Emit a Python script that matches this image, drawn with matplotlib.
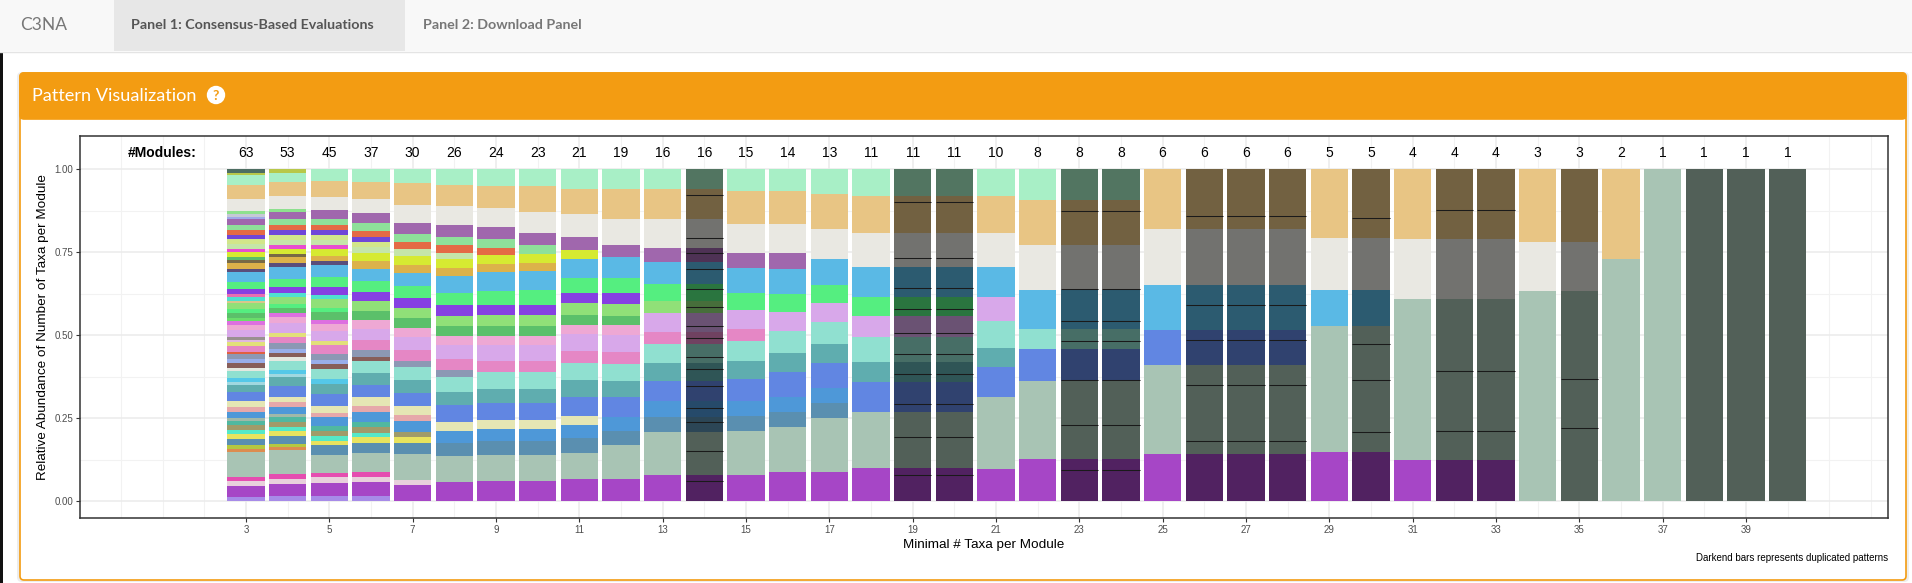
import numpy as np
import matplotlib.pyplot as plt
from matplotlib import font_manager
from matplotlib.patches import FancyBboxPatch, Rectangle, Circle
from matplotlib.colors import to_rgb

W, H = 1912, 583

installed = {f.name for f in font_manager.fontManager.ttflist}


def pick(*cands):
    for c in cands:
        if c in installed:
            return c
    return 'DejaVu Sans'


plot_font = pick('Liberation Sans', 'Arial', 'DejaVu Sans')
page_font = pick('Lato', 'Open Sans', 'Noto Sans')

# ---- data -------------------------------------------------------------
min_taxa = list(range(3, 41))
n_modules = [63, 53, 45, 37, 30, 26, 24, 23, 21, 19, 16, 16, 15, 14, 13, 11, 11, 11, 10,
             8, 8, 8, 6, 6, 6, 6, 5, 5, 4, 4, 4, 3, 3, 2, 1, 1, 1, 1]
# bars that repeat the pattern before them (drawn darker)
duplicated = [14, 19, 20, 23, 24, 26, 27, 28, 30, 32, 33, 35, 38, 39, 40]

module_colors = {
    'sage': '#A8C4B4', 'purple': '#A646C6', 'mint': '#A8EFC6', 'peach': '#E8C584',
    'lgray': '#E9E8E2', 'mauve': '#A067AD', 'green': '#8EE09A', 'orange': '#E46A45',
    'violet': '#7046D8', 'lyg': '#D2E58A', 'pgreen': '#C5E5A9', 'magenta': '#E84DD0',
    'yellow': '#D6EA32', 'gold': '#DCB24A', 'dslate': '#5A4E7A', 'sky': '#5AB9E5',
    'bgreen': '#55EE80', 'violet2': '#8640E2', 'turq': '#4FE0D0', 'lgreen2': '#90E078',
    'green2': '#5BC06A', 'orchid': '#DD6FE0', 'lpink': '#EEA8D4', 'lavender': '#D8A8EA',
    'pyellow': '#E2E07A', 'pink': '#E587C5', 'graybl': '#8C98B4', 'periw': '#99AEEA',
    'brown': '#875E5A', 'lgray2': '#E4E8E0', 'mint2': '#90E0D0', 'sky2': '#55C8E8',
    'lblue': '#A0D8E0', 'teal': '#5FADAF', 'blue': '#6186E2', 'pyellow2': '#E5E6B4',
    'salmon': '#E6A8AA', 'blue2': '#4E98D8', 'graygreen': '#A0B8A8', 'seagreen': '#50B8A0',
    'khaki': '#A09B6A', 'turq2': '#55E8C8', 'yellow2': '#E8E35E', 'steel': '#5A8FB0',
    'olivegreen': '#B5C840', 'orange3': '#DC8C50', 'magpink': '#E54DB0', 'lpink2': '#E8D0DC',
    'lavender2': '#A78BE8', 'dkteal': '#4E6E62', 'olive': '#B8C84A', 'lgreen': '#8EE08E',
    'lgraybl': '#C5C9D6', 'periw0': '#9FA9E8', 'green5': '#5ABD6A', 'olivebrown': '#786A45',
    'pink0': '#E86FB0', 'tan': '#D9C68A', 'green6': '#6ADE6A', 'gray': '#999090',
    'lavpink': '#E0B8E0', 'orange2': '#E06040',
}

# taxa share of each module (top to bottom), per minimal taxa size
mods_03 = ['dkteal', 'olive', 'mint', 'peach', 'lgray', 'lgreen', 'lgraybl', 'periw0', 'mauve',
           'green', 'orange', 'violet', 'lyg', 'pgreen', 'magenta', 'yellow', 'green5',
           'olivebrown', 'gold', 'dslate', 'sky', 'bgreen', 'violet2', 'pink0', 'turq', 'tan',
           'lgreen2', 'bgreen', 'green2', 'green6', 'orchid', 'lpink', 'lavender', 'gray',
           'lavpink', 'pyellow', 'pink', 'orange2', 'graybl', 'periw', 'brown', 'lgray2',
           'mint2', 'sky2', 'lblue', 'teal', 'blue', 'pyellow2', 'salmon', 'blue2',
           'graygreen', 'seagreen', 'khaki', 'turq2', 'yellow2', 'steel', 'olivegreen',
           'orange3', 'sage', 'magpink', 'lpink2', 'purple', 'lavender2']
size_03 = [10, 8, 30, 42, 36, 9, 8, 7, 18, 15, 15, 12, 15, 15, 9, 15, 8, 10, 18, 9, 30, 21, 15,
           9, 11, 6, 19, 12, 14, 10, 12, 14, 22, 8, 7, 12, 17, 6, 15, 12, 16, 8, 22, 12, 9, 21,
           26, 18, 16, 17, 9, 13, 15, 12, 15, 18, 12, 9, 75, 12, 15, 33, 12]

mods_04 = ['olive', 'mint', 'peach', 'lgray', 'lgreen', 'mauve', 'green', 'orange', 'violet',
           'lyg', 'pgreen', 'magenta', 'yellow', 'olivebrown', 'gold', 'dslate', 'sky',
           'bgreen', 'violet2', 'turq', 'lgreen2', 'bgreen', 'green2', 'orchid', 'lpink',
           'lavender', 'pyellow', 'pink', 'graybl', 'periw', 'brown', 'lgray2', 'mint2', 'sky2',
           'lblue', 'teal', 'blue', 'pyellow2', 'salmon', 'blue2', 'graygreen', 'seagreen',
           'khaki', 'turq2', 'yellow2', 'steel', 'olivegreen', 'orange3', 'sage', 'magpink',
           'lpink2', 'purple', 'lavender2']
size_04 = [11, 27, 43, 39, 8, 22, 18, 15, 15, 15, 15, 12, 15, 9, 18, 12, 36, 24, 18, 12, 21, 12,
           15, 12, 18, 30, 12, 18, 18, 12, 12, 12, 27, 12, 9, 27, 33, 15, 15, 21, 9, 15, 15, 12,
           15, 24, 9, 9, 72, 15, 15, 36, 15]

mods_05 = ['mint', 'peach', 'lgray', 'mauve', 'green', 'orange', 'violet', 'lyg', 'pgreen',
           'magenta', 'yellow', 'gold', 'dslate', 'sky', 'bgreen', 'violet2', 'turq', 'lgreen2',
           'bgreen', 'green2', 'orchid', 'lpink', 'lavender', 'pyellow', 'pink', 'graybl',
           'periw', 'brown', 'mint2', 'sky2', 'teal', 'blue', 'pyellow2', 'salmon', 'blue2',
           'seagreen', 'khaki', 'turq2', 'yellow2', 'steel', 'sage', 'magpink', 'lpink2',
           'purple', 'lavender2']
size_05 = [36, 48, 39, 27, 18, 15, 15, 15, 15, 12, 21, 15, 12, 36, 30, 24, 12, 27, 12, 24, 12,
           21, 30, 12, 27, 18, 12, 15, 30, 15, 30, 36, 21, 12, 27, 15, 15, 15, 12, 30, 54, 12,
           18, 39, 15]

mods_06 = ['mint', 'peach', 'lgray', 'mauve', 'green', 'orange', 'violet', 'lyg', 'pgreen',
           'yellow', 'gold', 'sky', 'bgreen', 'violet2', 'lgreen2', 'green2', 'lpink',
           'lavender', 'pink', 'graybl', 'brown', 'mint2', 'teal', 'blue', 'pyellow2', 'salmon',
           'blue2', 'seagreen', 'khaki', 'turq2', 'yellow2', 'steel', 'sage', 'magpink',
           'lpink2', 'purple', 'lavender2']
size_06 = [39, 51, 42, 30, 24, 18, 15, 15, 18, 24, 24, 36, 33, 27, 30, 27, 27, 33, 30, 21, 12,
           36, 36, 36, 27, 18, 30, 15, 18, 12, 18, 30, 57, 15, 15, 42, 15]

mods_07 = ['mint', 'peach', 'lgray', 'mauve', 'green', 'orange', 'pgreen', 'yellow', 'gold',
           'sky', 'bgreen', 'violet2', 'lgreen2', 'green2', 'lpink', 'lavender', 'pink',
           'graybl', 'mint2', 'teal', 'blue', 'pyellow2', 'salmon', 'blue2', 'khaki', 'yellow2',
           'steel', 'sage', 'lpink2', 'purple']
size_07 = [42, 66, 54, 33, 24, 21, 21, 27, 24, 39, 36, 30, 30, 30, 27, 39, 33, 18, 39, 39, 39,
           27, 18, 33, 15, 18, 33, 78, 15, 48]

mods_08 = ['mint', 'peach', 'lgray', 'mauve', 'green', 'orange', 'pgreen', 'yellow', 'gold',
           'sky', 'bgreen', 'violet2', 'lgreen2', 'green2', 'lpink', 'lavender', 'pink',
           'graybl', 'mint2', 'teal', 'blue', 'pyellow2', 'blue2', 'steel', 'sage', 'purple']
size_08 = [48, 63, 57, 36, 24, 24, 18, 27, 24, 51, 36, 33, 30, 30, 27, 42, 33, 21, 45, 39, 51,
           27, 36, 39, 78, 57]

mods_09 = ['mint', 'peach', 'lgray', 'mauve', 'green', 'orange', 'yellow', 'gold', 'sky',
           'bgreen', 'violet2', 'lgreen2', 'green2', 'lpink', 'lavender', 'pink', 'mint2',
           'teal', 'blue', 'pyellow2', 'blue2', 'steel', 'sage', 'purple']
size_09 = [51, 66, 57, 36, 27, 21, 27, 24, 57, 42, 30, 33, 30, 27, 48, 33, 51, 42, 51, 27, 36,
           42, 78, 60]

mods_10 = ['mint', 'peach', 'lgray', 'mauve', 'green', 'yellow', 'gold', 'sky', 'bgreen',
           'violet2', 'lgreen2', 'green2', 'lpink', 'lavender', 'pink', 'mint2', 'teal', 'blue',
           'pyellow2', 'blue2', 'steel', 'sage', 'purple']
size_10 = [51, 78, 63, 36, 27, 27, 24, 57, 45, 30, 33, 30, 27, 48, 33, 51, 42, 51, 27, 36, 42,
           78, 60]

mods_11 = ['mint', 'peach', 'lgray', 'mauve', 'yellow', 'sky', 'bgreen', 'violet2', 'lgreen2',
           'green2', 'lpink', 'lavender', 'pink', 'mint2', 'teal', 'blue', 'pyellow2', 'blue2',
           'steel', 'sage', 'purple']
size_11 = [60, 75, 69, 39, 27, 57, 45, 30, 36, 30, 27, 51, 36, 51, 51, 57, 27, 39, 45, 78, 66]

mods_12 = ['mint', 'peach', 'lgray', 'mauve', 'sky', 'bgreen', 'violet2', 'lgreen2', 'green2',
           'lpink', 'lavender', 'pink', 'mint2', 'teal', 'blue', 'blue2', 'steel', 'sage',
           'purple']
size_12 = [60, 90, 78, 36, 63, 45, 33, 36, 27, 30, 51, 36, 51, 48, 60, 42, 42, 102, 66]

mods_13 = ['mint', 'peach', 'lgray', 'mauve', 'sky', 'bgreen', 'lgreen2', 'lavender', 'pink',
           'mint2', 'teal', 'blue', 'blue2', 'steel', 'sage', 'purple']
size_13 = [60, 90, 87, 42, 66, 51, 36, 57, 36, 57, 54, 60, 48, 45, 129, 78]

mods_15 = ['mint', 'peach', 'lgray', 'mauve', 'sky', 'bgreen', 'lavender', 'pink', 'mint2',
           'teal', 'blue', 'blue2', 'steel', 'sage', 'purple']
size_15 = [66, 99, 87, 45, 75, 51, 57, 36, 60, 54, 66, 45, 45, 132, 78]

mods_16 = ['mint', 'peach', 'lgray', 'mauve', 'sky', 'bgreen', 'lavender', 'mint2', 'teal',
           'blue', 'blue2', 'steel', 'sage', 'purple']
size_16 = [66, 99, 87, 48, 75, 54, 57, 66, 57, 75, 45, 45, 135, 87]

mods_17 = ['mint', 'peach', 'lgray', 'sky', 'bgreen', 'lavender', 'mint2', 'teal', 'blue',
           'blue2', 'steel', 'sage', 'purple']
size_17 = [75, 105, 90, 78, 54, 57, 66, 57, 75, 45, 45, 162, 87]

mods_18 = ['mint', 'peach', 'lgray', 'sky', 'bgreen', 'lavender', 'mint2', 'teal', 'blue',
           'sage', 'purple']
size_18 = [81, 111, 102, 90, 57, 63, 75, 60, 90, 168, 99]

mods_21 = ['mint', 'peach', 'lgray', 'sky', 'lavender', 'mint2', 'teal', 'blue', 'sage',
           'purple']
size_21 = [81, 111, 102, 90, 72, 81, 57, 90, 216, 96]

mods_22 = ['mint', 'peach', 'lgray', 'sky', 'mint2', 'blue', 'sage', 'purple']
size_22 = [93, 135, 135, 117, 60, 96, 234, 126]

mods_25 = ['peach', 'lgray', 'sky', 'blue', 'sage', 'purple']
size_25 = [180, 168, 135, 105, 267, 141]

mods_29 = ['peach', 'lgray', 'sky', 'sage', 'purple']
size_29 = [207, 156, 108, 378, 147]

mods_31 = ['peach', 'lgray', 'sage', 'purple']
size_31 = [210, 180, 483, 123]

mods_34 = ['peach', 'lgray', 'sage']
size_34 = [219, 147, 630]

mods_36 = ['peach', 'sage']
size_36 = [270, 726]

mods_37 = ['sage']
size_37 = [996]

patterns = {
    3: (mods_03, size_03), 4: (mods_04, size_04), 5: (mods_05, size_05),
    6: (mods_06, size_06), 7: (mods_07, size_07), 8: (mods_08, size_08),
    9: (mods_09, size_09), 10: (mods_10, size_10), 11: (mods_11, size_11),
    12: (mods_12, size_12), 13: (mods_13, size_13), 15: (mods_15, size_15),
    16: (mods_16, size_16), 17: (mods_17, size_17), 18: (mods_18, size_18),
    21: (mods_21, size_21), 22: (mods_22, size_22), 25: (mods_25, size_25),
    29: (mods_29, size_29), 31: (mods_31, size_31), 34: (mods_34, size_34),
    36: (mods_36, size_36), 37: (mods_37, size_37),
}

# thin black separators seen inside the darkened bars
lines_14 = [0.922, 0.792, 0.747, 0.698, 0.638, 0.584, 0.528, 0.490, 0.433, 0.397, 0.346,
            0.280, 0.237, 0.150, 0.060]
lines_19 = [0.901, 0.732, 0.641, 0.580, 0.506, 0.442, 0.384, 0.293, 0.192, 0.079]
lines_23 = [0.873, 0.638, 0.542, 0.481, 0.364, 0.228, 0.092]
lines_26 = [0.858, 0.590, 0.484, 0.349, 0.180]
lines_30 = [0.852, 0.472, 0.364, 0.207]
lines_32 = [0.876, 0.391, 0.210]
lines_35 = [0.367, 0.219]
dup_lines = {14: lines_14, 19: lines_19, 20: lines_19, 23: lines_23, 24: lines_23,
             26: lines_26, 27: lines_26, 28: lines_26, 30: lines_30, 32: lines_32,
             33: lines_32, 35: lines_35}


def darken(c, f=0.49):
    r, g, b = to_rgb(c)
    return (r * f, g * f, b * f)


# ---- page chrome ------------------------------------------------------
fig = plt.figure(figsize=(W / 100, H / 100), dpi=100)
fig.patch.set_facecolor('white')
bg = fig.add_axes([0, 0, 1, 1])
bg.set_xlim(0, W)
bg.set_ylim(H, 0)
bg.axis('off')

bg.add_patch(Rectangle((0, 0), W, 51, color='#F8F8F8', lw=0))
bg.add_patch(Rectangle((114, 0), 291, 51, color='#E7E7E7', lw=0))
bg.plot([0, W], [51.5, 51.5], color='#E4E4E4', lw=1)
bg.add_patch(Rectangle((0, 52), 3, H - 52, color='#111111', lw=0))
bg.text(20, 25, 'C3NA', family=page_font, fontsize=12.5, color='#777777', va='center')
bg.text(131, 25, 'Panel 1: Consensus-Based Evaluations', family=page_font,
        fontsize=10.3, fontweight='bold', color='#555555', va='center')
bg.text(423, 25, 'Panel 2: Download Panel', family=page_font,
        fontsize=10.3, fontweight='bold', color='#777777', va='center')

# box shadow + box
bg.add_patch(FancyBboxPatch((17, 72), 1892, 510, boxstyle='round,pad=0,rounding_size=5',
                            facecolor='#EDEDED', edgecolor='none'))
bg.add_patch(FancyBboxPatch((20, 73), 1886, 507, boxstyle='round,pad=0,rounding_size=4',
                            facecolor='white', edgecolor='#F39C12', lw=1.2))
bg.add_patch(FancyBboxPatch((20, 73), 1886, 46, boxstyle='round,pad=0,rounding_size=4',
                            facecolor='#F39C12', edgecolor='#F39C12', lw=1.2))
bg.add_patch(Rectangle((20, 100), 1886, 19, color='#F39C12', lw=0))
bg.text(32, 96, 'Pattern Visualization', family=page_font, fontsize=13.1, color='white',
        va='center')
bg.add_patch(Circle((216, 95), 8.5, color='white'))
bg.text(216, 95.5, '?', family=page_font, fontsize=10, fontweight='bold', color='#F39C12',
        ha='center', va='center')
bg.text(1888, 558, 'Darkend bars represents duplicated patterns', family=plot_font,
        fontsize=7, color='black', ha='right', va='center')

# ---- chart ------------------------------------------------------------
ax = fig.add_axes([80 / W, 1 - 518 / H, (1888 - 80) / W, (518 - 136) / H])
ax.set_xlim(-0.984, 42.41)
ax.set_ylim(-0.0513, 1.1004)

last_pattern = None
for x, n in zip(min_taxa, n_modules):
    dark = x in duplicated
    if not dark:
        last_pattern = patterns[x]
    mods, sizes = last_pattern
    share = np.array(sizes, dtype=float) / sum(sizes)
    top = 1.0
    for m, s in zip(mods, share):
        c = module_colors[m]
        ax.bar(x, s, bottom=top - s, width=0.9, color=darken(c) if dark else c,
               linewidth=0, zorder=2)
        top -= s
    for yl in dup_lines.get(x, []):
        ax.plot([x - 0.45, x + 0.45], [yl, yl], color='#1A1A1A', lw=0.75, zorder=3,
                solid_capstyle='butt')
    ax.text(x, 1.05, str(n), ha='center', va='center', fontsize=10, family=plot_font)

ax.text(1, 1.05, '#Modules:', ha='center', va='center', fontsize=10, family=plot_font,
        fontweight='bold')

ax.set_xticks(range(3, 40, 2))
ax.set_xticks([v for v in range(0, 43) if not (v % 2 == 1 and 3 <= v <= 39)], minor=True)
ax.set_yticks([0, 0.25, 0.5, 0.75, 1.0])
ax.set_yticklabels(['0.00', '0.25', '0.50', '0.75', '1.00'])
ax.set_yticks([0.125, 0.375, 0.625, 0.875], minor=True)
ax.grid(which='major', color='#EBEBEB', lw=1.1, zorder=0)
ax.grid(which='minor', color='#F2F2F2', lw=0.8, zorder=0)
ax.set_axisbelow(True)
ax.tick_params(which='major', length=3, width=0.8, color='#333333', labelsize=7,
               labelcolor='#4D4D4D', pad=2)
ax.tick_params(which='minor', length=0)
for lab in ax.get_xticklabels() + ax.get_yticklabels():
    lab.set_family(plot_font)
for sp in ax.spines.values():
    sp.set_color('#333333')
    sp.set_linewidth(1.1)

ax.set_xlabel('Minimal # Taxa per Module', fontsize=9.7, family=plot_font, labelpad=3)
ax.set_ylabel('Relative Abundance of Number of Taxa per Module', fontsize=9.7,
              family=plot_font, labelpad=4)

fig.savefig('out.png', dpi=100)
